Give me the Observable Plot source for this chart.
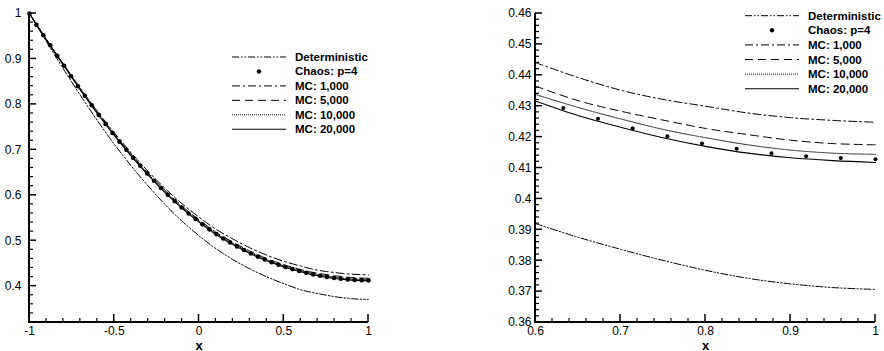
<!DOCTYPE html>
<html><head><meta charset="utf-8">
<script src="https://cdn.jsdelivr.net/npm/d3@7"></script>
<script src="https://cdn.jsdelivr.net/npm/@observablehq/plot@0.6"></script>
<style>
html,body{margin:0;padding:0;background:#fff;}
#wrap{position:relative;width:884px;height:351px;overflow:hidden;font-family:"Liberation Sans",Arial,sans-serif;color:#000;}
.panel{position:absolute;top:0;}
.panel svg{overflow:visible;}
g[aria-label="x-axis label"]{font-weight:bold;font-size:13px;}
.legend{position:absolute;top:0;left:0;pointer-events:none;}
</style></head><body><div id="wrap"></div>
<script>
// ---- data ----
const gridX = [-1,-0.9,-0.8,-0.7,-0.6,-0.5,-0.4,-0.3,-0.2,-0.1,0,0.1,0.2,0.3,0.4,0.5,0.6,0.65,0.7,0.75,0.8,0.85,0.9,0.95,1];
const deterministic = [1.000,0.938,0.878,0.820,0.7645,0.7125,0.6645,0.6205,0.5795,0.543,0.511,0.4825,0.4585,0.438,0.4205,0.4055,0.3920,0.3876,0.3837,0.3801,0.3769,0.3743,0.3725,0.3713,0.3707];
const mc1000  = [1.000,0.943,0.889,0.8357,0.7849,0.7377,0.6933,0.6525,0.615,0.5814,0.552,0.5252,0.5037,0.4844,0.4682,0.4547,0.4441,0.4393,0.4352,0.4322,0.4300,0.4278,0.4263,0.4254,0.4248];
const mc5000  = [1.000,0.9425,0.888,0.8342,0.7829,0.7352,0.6903,0.6488,0.6106,0.5762,0.546,0.5187,0.4967,0.4771,0.4607,0.4472,0.4365,0.4318,0.4284,0.4255,0.4228,0.4208,0.4190,0.4179,0.4175];
const mc10000 = [1.000,0.9423,0.8875,0.8333,0.7816,0.7335,0.6882,0.6465,0.608,0.5735,0.5432,0.516,0.4940,0.4744,0.4580,0.4445,0.4338,0.4296,0.4259,0.4225,0.4198,0.4175,0.4158,0.4148,0.4144];
const mc20000 = [1.000,0.9415,0.8863,0.8318,0.7799,0.7317,0.6862,0.6444,0.6059,0.5713,0.541,0.5137,0.4917,0.4721,0.4557,0.4422,0.4317,0.4270,0.4232,0.4198,0.4170,0.4148,0.4133,0.4124,0.4118];
const chaosX = [-1,-0.9592,-0.9184,-0.8776,-0.8367,-0.7959,-0.7551,-0.7143,-0.6735,-0.6327,-0.5918,-0.5510,-0.5102,-0.4694,-0.4286,-0.3878,-0.3469,-0.3061,-0.2653,-0.2245,-0.1837,-0.1429,-0.1020,-0.0612,-0.0204,0.0204,0.0612,0.1020,0.1429,0.1837,0.2245,0.2653,0.3061,0.3469,0.3878,0.4286,0.4694,0.5102,0.5510,0.5918,0.6327,0.6735,0.7143,0.7551,0.7959,0.8367,0.8776,0.9184,0.9592,1];
const chaosP4 = [1.000,0.975,0.952,0.930,0.907,0.885,0.862,0.840,0.819,0.798,0.777,0.757,0.737,0.718,0.700,0.682,0.665,0.648,0.632,0.616,0.601,0.587,0.573,0.560,0.548,0.536,0.525,0.5145,0.505,0.496,0.4875,0.4795,0.472,0.465,0.4585,0.4525,0.447,0.442,0.4375,0.4333,0.4294,0.4259,0.4229,0.4203,0.4179,0.4162,0.4148,0.4138,0.4132,0.4128];
const seriesNames = ["Deterministic","Chaos: p=4","MC: 1,000","MC: 5,000","MC: 10,000","MC: 20,000"];
const leftXTicks = [-1,-0.5,0,0.5,1];
const leftYTicks = [0.4,0.5,0.6,0.7,0.8,0.9,1];
const rightXTicks = [0.6,0.7,0.8,0.9,1];
const rightYTicks = [0.36,0.37,0.38,0.39,0.4,0.41,0.42,0.43,0.44,0.45,0.46];

// ---- styles ----
const INK = "#000";
const lineStyles = {
  "Deterministic": {dash: "7,2,1.5,2,1.5,2", stroke: INK, width: 1},
  "MC: 1,000": {dash: "8,3,2,3", stroke: INK, width: 1},
  "MC: 5,000": {dash: "8,5", stroke: INK, width: 1},
  "MC: 10,000": {dash: "1,1", stroke: "#111", width: 1},
  "MC: 20,000": {dash: null, stroke: INK, width: 1.1}
};
const lineSeries = [["Deterministic", deterministic], ["MC: 1,000", mc1000], ["MC: 5,000", mc5000], ["MC: 10,000", mc10000], ["MC: 20,000", mc20000]];

const minorTicks = (a, b, step) => { const out = []; const n = Math.round((b - a) / step); for (let i = 0; i <= n; i++) out.push(+(a + i * step).toFixed(4)); return out; };
const fmt = d => String(+d.toFixed(4));
const notIn = (arr) => v => !arr.some(m => Math.abs(m - v) < 1e-9);

function tickSets(o) {
  return {
    yMin: o.yMinor.filter(notIn(o.yMajor)).filter(v => v > o.yDomain[0] + 1e-9),
    xMin: o.xMinor.filter(notIn(o.xMajor)),
    yMaj: o.yMajor.filter(v => v > o.yDomain[0] + 1e-9),
    xMaj: o.xMajor.filter(v => v > o.xDomain[0] + 1e-9)
  };
}

function panel(o) {
  const W = 442, H = 351, mt = 13, mb = 29;
  const inX = x => x >= o.xDomain[0] - 1e-9 && x <= o.xDomain[1] + 1e-9;
  const marks = [
    Plot.axisY(o.yMajor, {tickSize: 0, tickPadding: o.yPad, tickFormat: fmt, label: null, fontSize: 12, fill: INK}),
    Plot.axisX(o.xMajor, {tickSize: 0, tickPadding: 4, tickFormat: fmt, label: "x", labelAnchor: "center", labelArrow: "none", labelOffset: 27, fontSize: 12, fill: INK})
  ];
  for (const [name, vals] of lineSeries) {
    const rows = gridX.map((x, i) => ({x, y: vals[i]})).filter(d => inX(d.x));
    const s = lineStyles[name];
    marks.push(Plot.line(rows, {x: "x", y: "y", stroke: s.stroke, strokeWidth: s.width, strokeDasharray: s.dash, curve: "catmull-rom"}));
  }
  const dots = chaosX.map((x, i) => ({x, y: chaosP4[i]})).filter(d => inX(d.x));
  marks.push(Plot.dot(dots, {x: "x", y: "y", r: o.r, fill: INK, stroke: null}));
  return Plot.plot({
    width: W, height: H,
    marginLeft: o.ml, marginRight: o.mr, marginTop: mt, marginBottom: mb,
    x: {domain: o.xDomain, label: null},
    y: {domain: o.yDomain, label: null},
    style: {fontFamily: "'Liberation Sans', Arial, sans-serif", fontSize: "12px", background: "transparent", color: "#000"},
    marks
  });
}

const leftOpts = {xDomain: [-1, 1], yDomain: [0.32, 1], xMajor: leftXTicks, xMinor: minorTicks(-1, 1, 0.1),
  yMajor: leftYTicks, yMinor: minorTicks(0.32, 1, 0.02), ml: 29, mr: 74, r: 2.3, yPad: 8};
const rightOpts = {xDomain: [0.6, 1], yDomain: [0.36, 0.46], xMajor: rightXTicks, xMinor: minorTicks(0.6, 1, 0.02),
  yMajor: rightYTicks, yMinor: minorTicks(0.36, 0.46, 0.002), ml: 93, mr: 9, r: 2, yPad: 4};

const wrap = document.getElementById("wrap");
const left = panel(leftOpts);
const right = panel(rightOpts);
const d1 = document.createElement("div"); d1.className = "panel"; d1.style.left = "0px"; d1.appendChild(left); wrap.appendChild(d1);
const d2 = document.createElement("div"); d2.className = "panel"; d2.style.left = "442px"; d2.appendChild(right); wrap.appendChild(d2);

// ---- overlay: axis frame lines + inward ticks (positions from Plot's own scales) and legends ----
const over = d3.select(wrap).append("svg").attr("class", "legend").attr("width", 884).attr("height", 351);

function frame(plotSvg, offX, o) {
  try {
    const sx = plotSvg.scale("x"), sy = plotSvg.scale("y");
    const X = v => offX + sx.apply(v), Y = v => sy.apply(v);
    const x0 = X(o.xDomain[0]), x1 = X(o.xDomain[1]);
    const y0 = Y(o.yDomain[0]), y1 = Y(o.yDomain[1]);
    const t = tickSets(o);
    const g = over.append("g").attr("stroke", INK).attr("fill", "none");
    t.yMin.forEach(v => g.append("line").attr("x1", x0).attr("x2", x0 + 4).attr("y1", Y(v)).attr("y2", Y(v)).attr("stroke-width", 1.2));
    t.yMaj.forEach(v => g.append("line").attr("x1", x0).attr("x2", x0 + 7).attr("y1", Y(v)).attr("y2", Y(v)).attr("stroke-width", 1.5));
    t.xMin.forEach(v => g.append("line").attr("x1", X(v)).attr("x2", X(v)).attr("y1", y0).attr("y2", y0 - 4).attr("stroke-width", 1.2));
    t.xMaj.forEach(v => g.append("line").attr("x1", X(v)).attr("x2", X(v)).attr("y1", y0).attr("y2", y0 - 8).attr("stroke-width", 1.5));
    g.append("line").attr("x1", x0).attr("x2", x0).attr("y1", y1).attr("y2", y0 + 1).attr("stroke-width", 2);
    g.append("line").attr("x1", x0 - 1).attr("x2", x1).attr("y1", y0).attr("y2", y0).attr("stroke-width", 2);
  } catch (e) { /* keep the rest of the chart */ }
}
frame(left, 0, leftOpts);
frame(right, 442, rightOpts);

function legend(x0, x1, tx, y0, dy) {
  seriesNames.forEach((name, i) => {
    const y = y0 + i * dy;
    if (name.startsWith("Chaos")) {
      over.append("circle").attr("cx", (x0 + x1) / 2).attr("cy", y).attr("r", 2.2).attr("fill", INK);
    } else {
      const s = lineStyles[name];
      over.append("line").attr("x1", x0).attr("x2", x1).attr("y1", y).attr("y2", y)
        .attr("stroke", s.stroke).attr("stroke-width", s.width).attr("stroke-dasharray", s.dash);
    }
    over.append("text").attr("x", tx).attr("y", y).attr("dy", "0.35em")
      .attr("font-family", "'Liberation Sans', Arial, sans-serif").attr("font-weight", "bold").attr("font-size", 11.5)
      .attr("fill", INK).text(name);
  });
}
legend(232, 286, 295, 57, 14.45);
legend(745, 799, 808, 15.7, 14.6);
</script>
</body></html>
